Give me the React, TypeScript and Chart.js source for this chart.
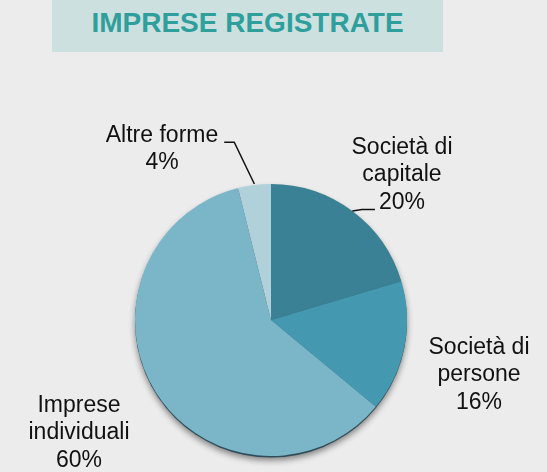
import React, { useEffect, useRef } from "react";
import { Chart, registerables } from "chart.js";

Chart.register(...registerables);

const categories = ["Società di capitale", "Società di persone", "Imprese individuali", "Altre forme"];
const labelLines = [["Società di", "capitale"], ["Società di", "persone"], ["Imprese", "individuali"], ["Altre forme"]];
const values = [20.4, 15.6, 60.1, 3.9];
const percentLabels = ["20%", "16%", "60%", "4%"];
const colors = ["#3a8195", "#4499b0", "#7bb5c8", "#b0d0da"];

const FONT = "Arial, 'Liberation Sans', sans-serif";

// label layout relative to pie center (dx, dy of text block center) and leader style
const labelLayout = [
  { dx: 131, dy: -145, leader: "capitale" },
  { dx: 208, dy: 55, leader: null },
  { dx: -192, dy: 113, leader: null },
  { dx: -109, dy: -171, leader: "altre" },
];

const shadowPlugin = {
  id: "pieShadow",
  beforeDatasetsDraw(chart: any) {
    const arc = chart.getDatasetMeta(0).data[0];
    if (!arc) return;
    const { x, y, outerRadius } = arc.getProps(["x", "y", "outerRadius"], true);
    const ctx = chart.ctx;
    ctx.save();
    ctx.shadowColor = "rgba(0,0,0,0.45)";
    ctx.shadowBlur = 6;
    ctx.shadowOffsetY = 3;
    ctx.beginPath();
    ctx.arc(x, y + 1.5, outerRadius, 0, Math.PI * 2);
    ctx.fillStyle = "#2f4d58";
    ctx.fill();
    ctx.restore();
  },
};

const labelPlugin = {
  id: "pieLabels",
  afterDatasetsDraw(chart: any) {
    const ctx = chart.ctx;
    const meta = chart.getDatasetMeta(0);
    ctx.save();
    ctx.font = `23px ${FONT}`;
    ctx.fillStyle = "#111";
    ctx.textAlign = "center";
    ctx.textBaseline = "middle";
    const lh = 27.5;
    meta.data.forEach((arc: any, i: number) => {
      const { x, y, startAngle, endAngle, outerRadius } = arc.getProps(
        ["x", "y", "startAngle", "endAngle", "outerRadius"],
        true
      );
      const lay = labelLayout[i];
      const lines = [...labelLines[i], percentLabels[i]];
      const cx = x + lay.dx;
      const cy = y + lay.dy;
      const top = cy - ((lines.length - 1) * lh) / 2;
      lines.forEach((t, k) => ctx.fillText(t, cx, top + k * lh));
      const mid = (startAngle + endAngle) / 2;
      const ex = x + Math.cos(mid) * outerRadius;
      const ey = y + Math.sin(mid) * outerRadius;
      ctx.strokeStyle = "#111";
      ctx.lineWidth = 1.5;
      if (lay.leader === "altre") {
        const w = ctx.measureText(lines[0]).width;
        const hy = top + 7;
        const hx0 = cx + w / 2 + 6;
        ctx.beginPath();
        ctx.moveTo(hx0, hy);
        ctx.lineTo(hx0 + 10, hy);
        ctx.lineTo(ex, ey - 1);
        ctx.stroke();
      } else if (lay.leader === "capitale") {
        const w = ctx.measureText(lines[2]).width;
        const hy = top + 2 * lh + 7;
        const hx1 = cx - w / 2 - 4;
        ctx.beginPath();
        ctx.moveTo(hx1, hy);
        ctx.lineTo(hx1 - 13, hy);
        ctx.lineTo(ex, ey);
        ctx.stroke();
      }
    });
    ctx.restore();
  },
};

export default function App() {
  const ref = useRef<HTMLCanvasElement>(null);
  useEffect(() => {
    document.body.style.margin = "0";
    document.body.style.background = "#ececec";
    if (!ref.current) return;
    const chart = new Chart(ref.current, {
      type: "pie",
      data: {
        labels: categories,
        datasets: [
          {
            data: values,
            backgroundColor: (c: any) => {
              const ch = c.chart;
              const i = c.dataIndex;
              const area = ch.chartArea;
              if (!area) return colors[i];
              const g = ch.ctx.createLinearGradient(area.left, area.top, area.right, area.bottom);
              const base = colors[i];
              g.addColorStop(0, base);
              g.addColorStop(1, base);
              return g;
            },
            borderWidth: 0,
          },
        ],
      },
      options: {
        animation: false,
        responsive: false,
        layout: { padding: { left: 135, right: 140, top: 184, bottom: 16 } },
        plugins: {
          legend: { display: false },
          tooltip: { enabled: false },
          title: { display: false },
        },
      },
      plugins: [shadowPlugin, labelPlugin],
    });
    return () => chart.destroy();
  }, []);
  return (
    <div style={{ position: "relative", width: 547, height: 472, background: "#ececec", overflow: "hidden" }}>
      <div
        style={{
          position: "absolute",
          left: 52,
          top: 0,
          width: 391,
          height: 52,
          background: "#cde0e0",
          color: "#2e9f9b",
          fontFamily: FONT,
          fontWeight: "bold",
          fontSize: 28,
          lineHeight: "46px",
          textAlign: "center",
        }}
      >
        IMPRESE REGISTRATE
      </div>
      <canvas ref={ref} width={547} height={472} style={{ position: "absolute", left: 0, top: 0 }} />
    </div>
  );
}
